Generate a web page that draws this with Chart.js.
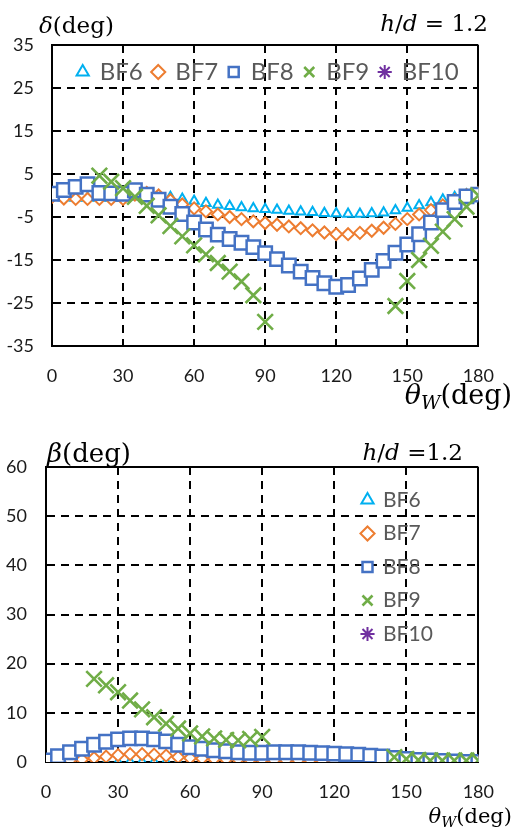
<!DOCTYPE html>
<html>
<head>
<meta charset="utf-8">
<script src="https://cdn.jsdelivr.net/npm/chart.js@4.4.1/dist/chart.umd.min.js"></script>
<style>
  body { margin: 0; background: #fff; width: 513px; height: 831px; position: relative; overflow: hidden; }
  canvas { position: absolute; left: 0; }
  #deltaChart { top: 0; }
  #betaChart { top: 415px; }
  .lbl { position: absolute; font-family: "DejaVu Serif", serif; color: #000; white-space: nowrap; line-height: 1; }
  .lbl sub { font-size: 70%; vertical-align: -0.25em; }
</style>
</head>
<body>
<canvas id="deltaChart" width="513" height="415"></canvas>
<canvas id="betaChart" width="513" height="416"></canvas>

<div class="lbl" style="left:39px;top:14px;font-size:23px"><i>δ</i>(deg)</div>
<div class="lbl" style="right:25px;top:12px;font-size:23px"><i>h</i>/<i>d</i> = 1.2</div>
<div class="lbl" style="right:1px;top:381px;font-size:27px"><i>θ</i><sub><i>W</i></sub>(deg)</div>

<div class="lbl" style="left:47px;top:440px;font-size:26px"><i>β</i>(deg)</div>
<div class="lbl" style="right:50px;top:441px;font-size:23px"><i>h</i>/<i>d</i> =1.2</div>
<div class="lbl" style="right:1px;top:806px;font-size:21px"><i>θ</i><sub><i>W</i></sub>(deg)</div>

<script>
// wind angle, every 5 deg
const theta = [0, 5, 10, 15, 20, 25, 30, 35, 40, 45, 50, 55, 60, 65, 70, 75, 80, 85, 90,
  95, 100, 105, 110, 115, 120, 125, 130, 135, 140, 145, 150, 155, 160, 165, 170, 175, 180];

// delta (deg)
const deltaBF6 = [-0.3, -0.5, -0.6, -0.6, -0.6, -0.6, -0.6, -0.3, 0, -0.1, -0.4, -0.8, -1.3, -1.8, -2.2, -2.5, -2.8, -3.0, -3.2,
  -3.4, -3.6, -3.8, -3.9, -4.1, -4.2, -4.3, -4.3, -4.2, -4.0, -3.5, -2.9, -2.3, -1.6, -1.0, -0.4, 0.2, 0.5];
const deltaBF7 = [-0.3, -0.7, -0.8, -0.8, -0.8, -0.8, -0.8, 0.2, 0.6, 0, -1.1, -2.1, -3.0, -3.7, -4.4, -5.0, -5.5, -6.0, -6.4,
  -6.8, -7.2, -7.6, -8.1, -8.6, -9.0, -9.0, -8.7, -8.2, -7.5, -6.6, -5.5, -4.4, -3.4, -2.3, -1.1, 0.1, 0.6];
const deltaBF8 = [0.4, 1.3, 2.0, 2.6, 0.6, 0.5, 0.4, 1.2, 0.2, -1.0, -2.6, -4.3, -6.3, -7.9, -9.1, -10.1, -11.0, -12.0, -13.4,
  -14.8, -16.3, -17.7, -19.2, -20.4, -21.2, -20.8, -19.3, -17.3, -15.2, -13.3, -11.4, -9.0, -6.3, -3.4, -1.5, -0.2, 0.2];
const deltaBF9 = [null, null, null, null, 4.6, 3.2, 1.7, -0.3, -2.4, -4.6, -7.1, -9.5, -11.6, -13.7, -15.7, -17.7, -20.0, -23.2, -29.4,
  null, null, null, null, null, null, null, null, null, null, -25.7, -19.9, -15.0, -11.7, -8.4, -5.5, -2.6, 0];
const deltaBF10 = [];

// beta (deg)
const betaBF6 = [-0.6, -0.6, -0.5, -0.4, -0.3, -0.2, -0.1, 0, 0, 0, 0, -0.1, -0.1, -0.2, -0.2, -0.3, -0.3, -0.3, -0.3,
  -0.3, -0.3, -0.3, -0.3, -0.3, -0.3, -0.4, -0.4, -0.4, -0.4, -0.5, -0.5, -0.5, -0.5, -0.5, -0.5, -0.5, -0.5];
const betaBF7 = [0, 0.1, 0.3, 0.5, 0.8, 1.1, 1.4, 1.6, 1.6, 1.5, 1.3, 1.0, 0.8, 0.7, 0.6, 0.5, 0.5, 0.4, 0.4,
  0.3, 0.3, 0.3, 0.3, 0.2, 0.2, 0.2, 0.2, 0.1, 0.1, 0.1, 0, 0, 0, 0, 0, 0, 0];
const betaBF8 = [0.3, 1.2, 2.0, 2.7, 3.5, 4.1, 4.6, 4.8, 4.8, 4.6, 4.2, 3.5, 3.0, 2.7, 2.4, 2.2, 2.0, 1.9, 1.9,
  2.0, 2.0, 2.0, 1.9, 1.8, 1.7, 1.6, 1.5, 1.3, 1.1, 0.8, 0.6, 0.4, 0.3, 0.2, 0.1, 0, 0];
const betaBF9 = [null, null, null, null, 16.9, 15.6, 14.2, 12.5, 10.7, 9.1, 7.8, 6.8, 5.8, 5.2, 4.8, 4.5, 4.4, 4.7, 5.1,
  null, null, null, null, null, null, null, null, null, null, 1.0, 0.6, 0.4, 0.3, 0.3, 0.3, 0.3, 0.3];
const betaBF10 = [];

const thetaTicks = [0, 30, 60, 90, 120, 150, 180];
const deltaTicks = [-35, -25, -15, -5, 5, 15, 25, 35];
const betaTicks = [0, 10, 20, 30, 40, 50, 60];

const names = ['BF6', 'BF7', 'BF8', 'BF9', 'BF10'];
const colors = ['#00B0F0', '#ED7D31', '#4472C4', '#70AD47', '#7030A0'];
const styles = ['triangle', 'rectRot', 'rect', 'crossRot', 'star'];
const sizes = [5.5, 6, 9.5, 11, 7];
const widths = [2, 2, 2.5, 2.6, 2];

// puts the legend box inside the plot area
const legendSpot = {
  id: 'legendSpot',
  afterInit(chart, args, opts) {
    if (opts.horizontal) chart.legend.isHorizontal = () => true;
  },
  afterLayout(chart, args, opts) {
    const lg = chart.legend, ca = chart.chartArea;
    lg.left = ca.left + opts.dx; lg.right = lg.left + lg.width;
    lg.top = ca.top + opts.dy; lg.bottom = lg.top + lg.height;
  }
};

function buildSets(series) {
  return series.map((vals, i) => ({
    label: names[i],
    data: vals.map((v, j) => ({ x: theta[j], y: v })),
    showLine: false,
    pointStyle: styles[i],
    pointRadius: sizes[i],
    pointBorderWidth: widths[i],
    borderColor: colors[i],
    backgroundColor: '#fff',
    pointBackgroundColor: '#fff',
    borderWidth: widths[i],
    order: 4 - i
  }));
}

function dashed(lo, hi) {
  return (c) => (c.tick && (c.tick.value === lo || c.tick.value === hi)) ? [] : [8, 6];
}

function makeChart(id, series, yTicks, pad, legendOpts, spot, tickFont) {
  const yMin = yTicks[0], yMax = yTicks[yTicks.length - 1];
  return new Chart(document.getElementById(id), {
    type: 'scatter',
    data: { datasets: buildSets(series) },
    options: {
      responsive: false,
      animation: false,
      devicePixelRatio: 1,
      layout: { padding: pad },
      scales: {
        x: {
          type: 'linear', min: 0, max: 180,
          afterBuildTicks: (ax) => { ax.ticks = thetaTicks.map(v => ({ value: v })); },
          afterFit: (ax) => { ax.height = 69; },
          grid: { color: '#000', lineWidth: 2, drawTicks: false },
          border: { color: '#000', width: 2, dash: dashed(0, 180) },
          ticks: { color: '#1a1a1a', font: { family: 'Lato', size: tickFont }, padding: 19, maxRotation: 0, autoSkip: false }
        },
        y: {
          type: 'linear', min: yMin, max: yMax,
          afterBuildTicks: (ax) => { ax.ticks = yTicks.map(v => ({ value: v })); },
          afterFit: (ax) => { ax.width = pad.yw; },
          grid: { color: '#000', lineWidth: 2, drawTicks: false },
          border: { color: '#000', width: 2, dash: dashed(yMin, yMax) },
          ticks: { color: '#1a1a1a', font: { family: 'Lato', size: tickFont }, padding: pad.tp, autoSkip: false }
        }
      },
      plugins: {
        legend: legendOpts,
        tooltip: { enabled: false },
        legendSpot: spot
      }
    },
    plugins: [legendSpot]
  });
}

makeChart('deltaChart', [deltaBF6, deltaBF7, deltaBF8, deltaBF9, deltaBF10], deltaTicks,
  { top: 45, left: 0, right: 15, bottom: 0, yw: 52, tp: 18 },
  {
    position: 'chartArea', align: 'center',
    labels: {
      usePointStyle: true, boxWidth: 10, boxHeight: 10, padding: 10.5,
      color: '#595959', font: { family: 'Lato', size: 24 },
      sort: (a, b) => a.datasetIndex - b.datasetIndex
    }
  },
  { horizontal: true, dx: 3, dy: 4.5 }, 18);

makeChart('betaChart', [betaBF6, betaBF7, betaBF8, betaBF9, betaBF10], betaTicks,
  { top: 52, left: 0, right: 11, bottom: 0, yw: 46, tp: 19 },
  {
    position: 'chartArea', align: 'start',
    labels: {
      usePointStyle: true, boxWidth: 10, boxHeight: 10, padding: 12.5,
      color: '#595959', font: { family: 'Lato', size: 21 },
      sort: (a, b) => a.datasetIndex - b.datasetIndex
    }
  },
  { horizontal: false, dx: 304, dy: 10 }, 18);
</script>
</body>
</html>
